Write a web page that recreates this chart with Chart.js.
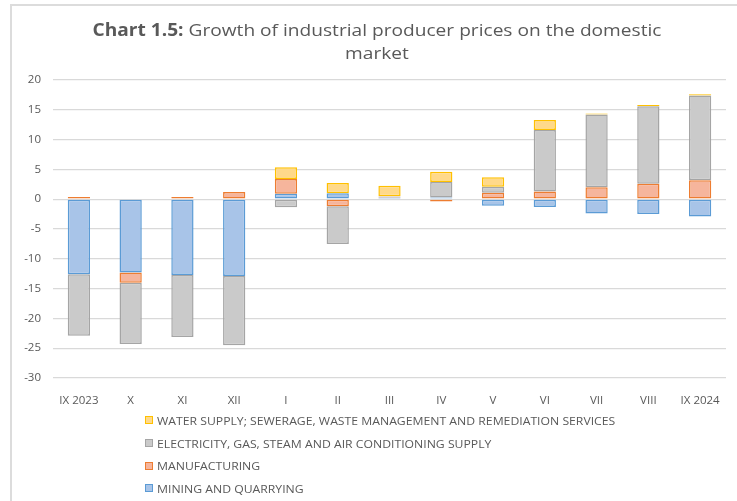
<!DOCTYPE html>
<html>
<head>
<meta charset="utf-8">
<script src="https://cdn.jsdelivr.net/npm/chart.js@4.4.1/dist/chart.umd.min.js"></script>
<style>
  html, body { margin: 0; padding: 0; width: 737px; height: 501px; overflow: hidden; background: #fff; }
  #frame { position: absolute; left: 10px; top: 4px; width: 800px; height: 600px; border: 2px solid #dcdcdc; box-sizing: border-box; }
  #chart { position: absolute; left: 0; top: 0; }
  #title { position: absolute; left: 0; top: 18px; width: 754px; text-align: center; font: 17px 'Open Sans', sans-serif; color: #595959; line-height: 23px; transform: scaleX(1.125); transform-origin: 377px 0; }
  #legend { position: absolute; left: 145px; top: 409px; font: 11px 'Open Sans', sans-serif; color: #595959; }
  .item { height: 22.7px; display: flex; align-items: center; }
  .box { width: 6px; height: 6px; border: 1px solid; margin-right: 4px; flex: none; }
  .txt { display: inline-block; transform: scaleX(1.11); transform-origin: 0 50%; white-space: nowrap; }
</style>
</head>
<body>
<div id="frame"></div>
<canvas id="chart" width="737" height="501"></canvas>
<div id="title"><b>Chart 1.5:</b> Growth of industrial producer prices on the domestic<br>market</div>
<div id="legend"></div>
<script>
const categories = ['IX 2023', 'X', 'XI', 'XII', 'I', 'II', 'III', 'IV', 'V', 'VI', 'VII', 'VIII', 'IX 2024'];
const mining = [-12.6, -12.3, -12.7, -12.9, 0.9, 1.0, 0.3, 0.3, -1.1, -1.3, -2.4, -2.5, -2.9];
const manufacturing = [0.35, -1.7, 0.35, 1.2, 2.5, -1.2, 0.1, -0.4, 1.1, 1.3, 2.0, 2.6, 3.2];
const electricity = [-10.3, -10.3, -10.4, -11.6, -1.35, -6.3, 0.1, 2.6, 1.0, 10.3, 12.2, 13.0, 14.2];
const water = [null, null, null, null, 1.95, 1.7, 1.75, 1.7, 1.6, 1.7, 0.2, 0.2, 0.2];

const seriesNames = ['MINING AND QUARRYING', 'MANUFACTURING', 'ELECTRICITY, GAS, STEAM AND AIR CONDITIONING SUPPLY', 'WATER SUPPLY; SEWERAGE, WASTE MANAGEMENT AND REMEDIATION SERVICES'];
const fills = ['#a8c4e8', '#f6b59c', '#cacaca', '#ffd98a'];
const borders = ['#5b9bd5', '#ed7d31', '#a5a5a5', '#ffc000'];
const values = [mining, manufacturing, electricity, water];

const textColor = '#595959';
const font = { family: "'Open Sans', sans-serif", size: 11.5 };

const chart = new Chart(document.getElementById('chart'), {
  type: 'bar',
  data: {
    labels: categories,
    datasets: values.map((v, i) => ({
      label: seriesNames[i],
      data: v,
      backgroundColor: fills[i],
      borderColor: borders[i],
      borderWidth: 1.5,
      borderSkipped: false,
      barPercentage: 0.43,
      categoryPercentage: 1,
    })),
  },
  options: {
    responsive: false,
    animation: false,
    layout: { padding: { left: 0, right: 11, top: 80, bottom: 93 } },
    plugins: {
      legend: { display: false },
      tooltip: { enabled: false },
    },
    scales: {
      x: {
        stacked: true,
        grid: { display: false },
        border: { display: false },
        ticks: { color: textColor, font: font, padding: 8, maxRotation: 0, autoSkip: false },
        afterFit: s => { s.height = 30; },
      },
      y: {
        stacked: true,
        min: -30,
        max: 20,
        ticks: { stepSize: 5, color: textColor, font: font, padding: 12 },
        grid: { color: '#d9d9d9', lineWidth: 1.3, drawTicks: false },
        border: { display: false },
        afterFit: s => { s.width = 53; },
      },
    },
  },
});

// legend, top entry = last series (like the original)
const legendEl = document.getElementById('legend');
chart.data.datasets.slice().reverse().forEach(ds => {
  const row = document.createElement('div');
  row.className = 'item';
  const box = document.createElement('span');
  box.className = 'box';
  box.style.background = ds.backgroundColor;
  box.style.borderColor = ds.borderColor;
  const txt = document.createElement('span');
  txt.className = 'txt';
  txt.textContent = ds.label;
  row.appendChild(box);
  row.appendChild(txt);
  legendEl.appendChild(row);
});
</script>
</body>
</html>
